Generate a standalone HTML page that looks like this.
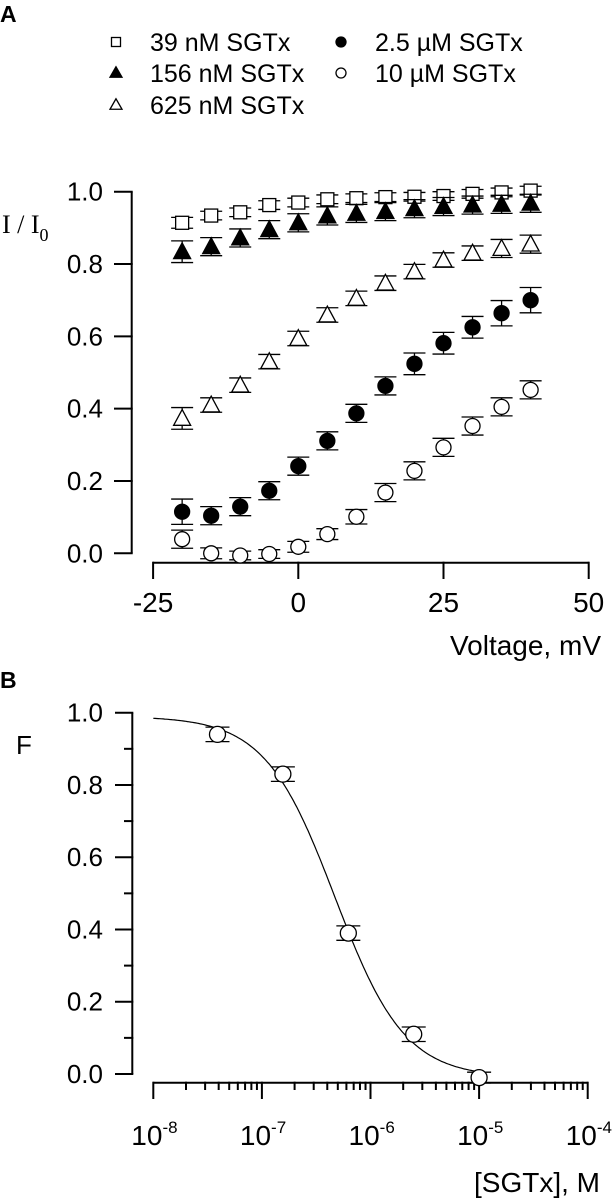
<!DOCTYPE html>
<html><head><meta charset="utf-8"><style>
html,body{margin:0;padding:0;background:#fff;}
svg{display:block;font-family:"Liberation Sans",Arial,sans-serif;}
</style></head><body>
<svg id="fig" width="616" height="1199" viewBox="0 0 616 1199" xmlns="http://www.w3.org/2000/svg">
<g id="gA"></g>
<g id="gB"></g>
</svg>
<script>
// ---- Panel A data ----
const voltages = [-20,-15,-10,-5,0,5,10,15,20,25,30,35,40];
const sq39 = [0.914,0.934,0.943,0.963,0.970,0.979,0.982,0.985,0.986,0.988,0.994,0.998,1.003];
const sq39Err = [0.015,0.012,0.012,0.012,0.012,0.012,0.012,0.012,0.012,0.012,0.012,0.012,0.012];
const tri156 = [0.834,0.848,0.872,0.895,0.914,0.933,0.940,0.945,0.953,0.959,0.963,0.965,0.968];
const tri156Err = [0.03,0.025,0.025,0.025,0.025,0.025,0.025,0.025,0.025,0.025,0.025,0.025,0.025];
const tri625 = [0.373,0.410,0.465,0.530,0.594,0.659,0.705,0.747,0.779,0.811,0.830,0.843,0.855];
const tri625Err = [0.03,0.02,0.02,0.02,0.02,0.02,0.02,0.02,0.02,0.02,0.02,0.025,0.025];
const circ25 = [0.115,0.104,0.129,0.173,0.241,0.311,0.387,0.463,0.524,0.581,0.625,0.664,0.700];
const circ25Err = [0.035,0.025,0.025,0.025,0.025,0.025,0.025,0.025,0.03,0.03,0.03,0.035,0.035];
const circ10 = [0.039,0.0,-0.006,-0.002,0.018,0.053,0.101,0.168,0.228,0.293,0.352,0.405,0.452];
const circ10Err = [0.025,0.015,0.012,0.012,0.015,0.015,0.02,0.025,0.025,0.025,0.025,0.025,0.025];
const aXTicks = [-25,0,25,50];
const aYTicks = [0,0.2,0.4,0.6,0.8,1.0];
const aYLabels = ["0.0","0.2","0.4","0.6","0.8","1.0"];
// ---- Panel B data ----
const conc = [39e-9,156e-9,625e-9,2.5e-6,10e-6];
const fVals = [0.94,0.83,0.39,0.11,-0.01];
const fErr = [0.02,0.02,0.02,0.02,0.015];
const bXTicksExp = [-8,-7,-6,-5,-4];
const bYTicks = [0,0.2,0.4,0.6,0.8,1.0];
const bYLabels = ["0.0","0.2","0.4","0.6","0.8","1.0"];
const hill = [0.99,-0.01,4.7e-7,1.35]; // top, bottom, IC50, n

const NS="http://www.w3.org/2000/svg";
function mk(parent,tag,attrs,text){const e=document.createElementNS(NS,tag);for(const k in attrs)e.setAttribute(k,attrs[k]);if(text!==undefined)e.textContent=text;parent.appendChild(e);return e;}

const ax = v => 298.3 + (v)*(145.2/25);
const ay = v => 553.3 - v*361.6;
const gA=document.getElementById('gA');
let t;
t=mk(gA,'text',{x:0,y:22,'font-size':23,'font-weight':'bold'},'A');



let l=mk(gA,'line',{x1:131.7,y1:ay(1),x2:131.7,y2:ay(0),stroke:'#000','stroke-width':2});


aYTicks.forEach((v,i)=>{
  mk(gA,'line',{x1:114,y1:ay(v),x2:132.7,y2:ay(v),stroke:'#000','stroke-width':2});
  const tt=mk(gA,'text',{x:103,y:ay(v)+9,'font-size':26,'text-anchor':'end'},aYLabels[i]);
  
  
});
l=mk(gA,'line',{x1:ax(-25),y1:562.7,x2:ax(50),y2:562.7,stroke:'#000','stroke-width':2});


aXTicks.forEach(v=>{
  mk(gA,'line',{x1:ax(v),y1:561.7,x2:ax(v),y2:579,stroke:'#000','stroke-width':2});
  const tt=mk(gA,'text',{x:ax(v),y:612,'font-size':28,'text-anchor':'middle'},String(v));
  
  
});
t=mk(gA,'text',{x:601,y:655,'font-size':28,'text-anchor':'end'},'Voltage, mV');


t=mk(gA,'text',{x:2,y:233,'font-size':26,'font-family':'"Liberation Serif",serif'});


t.innerHTML='I / I<tspan font-size="18" dy="8">0</tspan>';

function marker(g,type,x,y,s){
  const r=s||7;
  if(type==='sq') return mk(g,'rect',{x:x-r+0.5,y:y-r+0.5,width:2*r-1,height:2*r-1,fill:'#fff',stroke:'#000','stroke-width':1.3});
  if(type==='tf'||type==='to'){const h=r*1.05;return mk(g,'polygon',{points:`${x},${y-h-1} ${x-r-1},${y+h-1} ${x+r+1},${y+h-1}`,fill:type==='tf'?'#000':'#fff',stroke:'#000','stroke-width':1.3});}
  return mk(g,'circle',{cx:x,cy:y,r:r,fill:type==='cf'?'#000':'#fff',stroke:'#000','stroke-width':1.3});
}
function series(g,name,type,xs,ys,errs,fx,fy,cap,mr){
  const sg=mk(g,'g',{});
  
  
  xs.forEach((xv,i)=>{
    const x=fx(xv),y=fy(ys[i]),e=errs[i];
    const y1=fy(ys[i]+e),y2=fy(ys[i]-e);
    mk(sg,'line',{x1:x,y1:y1,x2:x,y2:y2,stroke:'#000','stroke-width':1.3});
    mk(sg,'line',{x1:x-cap,y1:y1,x2:x+cap,y2:y1,stroke:'#000','stroke-width':1.3});
    mk(sg,'line',{x1:x-cap,y1:y2,x2:x+cap,y2:y2,stroke:'#000','stroke-width':1.3});
    const m=marker(sg,type,x,y,mr);
    
    
  });
}
series(gA,'series-10uM','co',voltages,circ10,circ10Err,ax,ay,11,7.5);
series(gA,'series-2-5uM','cf',voltages,circ25,circ25Err,ax,ay,11,7.5);
series(gA,'series-625nM','to',voltages,tri625,tri625Err,ax,ay,11,7.5);
series(gA,'series-39nM','sq',voltages,sq39,sq39Err,ax,ay,11,7);
series(gA,'series-156nM','tf',voltages,tri156,tri156Err,ax,ay,11,7.5);

const legTypes=['sq','tf','to','cf','co'];
const legText=['39 nM SGTx','156 nM SGTx','625 nM SGTx','2.5 µM SGTx','10 µM SGTx'];
const legPos=[[116,42],[116,73],[116,105],[341,42],[341,73]];
legTypes.forEach((ty,i)=>{
  const lg=mk(gA,'g',{});
  
  
  marker(lg,ty,legPos[i][0],legPos[i][1],5);
  mk(lg,'text',{x:legPos[i][0]+34,y:legPos[i][1]+9,'font-size':25},legText[i]);
});

// ---- Panel B ----
const gB=document.getElementById('gB');
const bx = c => 153.3 + (Math.log10(c)+8)*108.6;
const by = v => 1074 - v*361.3;
t=mk(gB,'text',{x:0,y:688,'font-size':23,'font-weight':'bold'},'B');


t=mk(gB,'text',{x:16,y:754,'font-size':26},'F');


l=mk(gB,'line',{x1:132.3,y1:by(1),x2:132.3,y2:by(0),stroke:'#000','stroke-width':2});


for(let k=0;k<=10;k++){const v=k/10;mk(gB,'line',{x1:(k%2===0)?115:124,y1:by(v),x2:133.3,y2:by(v),stroke:'#000','stroke-width':2});}
bYTicks.forEach((v,i)=>{
  const tt=mk(gB,'text',{x:103,y:by(v)+9,'font-size':26,'text-anchor':'end'},bYLabels[i]);
  
  
});
l=mk(gB,'line',{x1:bx(1e-8),y1:1082.7,x2:bx(1e-4),y2:1082.7,stroke:'#000','stroke-width':2});


bXTicksExp.forEach((e,i)=>{
  const c=Math.pow(10,e);
  mk(gB,'line',{x1:bx(c),y1:1081.7,x2:bx(c),y2:1099,stroke:'#000','stroke-width':2});
  if(i<bXTicksExp.length-1){for(let m=2;m<=9;m++){mk(gB,'line',{x1:bx(m*c),y1:1081.7,x2:bx(m*c),y2:1090,stroke:'#000','stroke-width':2});}}
  const tt=mk(gB,'text',{x:bx(c)-22,y:1145,'font-size':28});
  
  
  tt.innerHTML='10<tspan font-size="17" dy="-12">'+e+'</tspan>';
});
t=mk(gB,'text',{x:600,y:1192,'font-size':28,'text-anchor':'end'},'[SGTx],  M');


let d='';
for(let i=0;i<=200;i++){const lc=-8+i*3/200;const c=Math.pow(10,lc);
  const f=hill[1]+(hill[0]-hill[1])/(1+Math.pow(c/hill[2],hill[3]));
  d+=(i?'L':'M')+bx(c).toFixed(1)+','+by(f).toFixed(1);}
const cp=mk(gB,'path',{d:d,fill:'none',stroke:'#000','stroke-width':1.2});


series(gB,'dose-response-points','co',conc,fVals,fErr,bx,by,12,8);
</script>
</body></html>
